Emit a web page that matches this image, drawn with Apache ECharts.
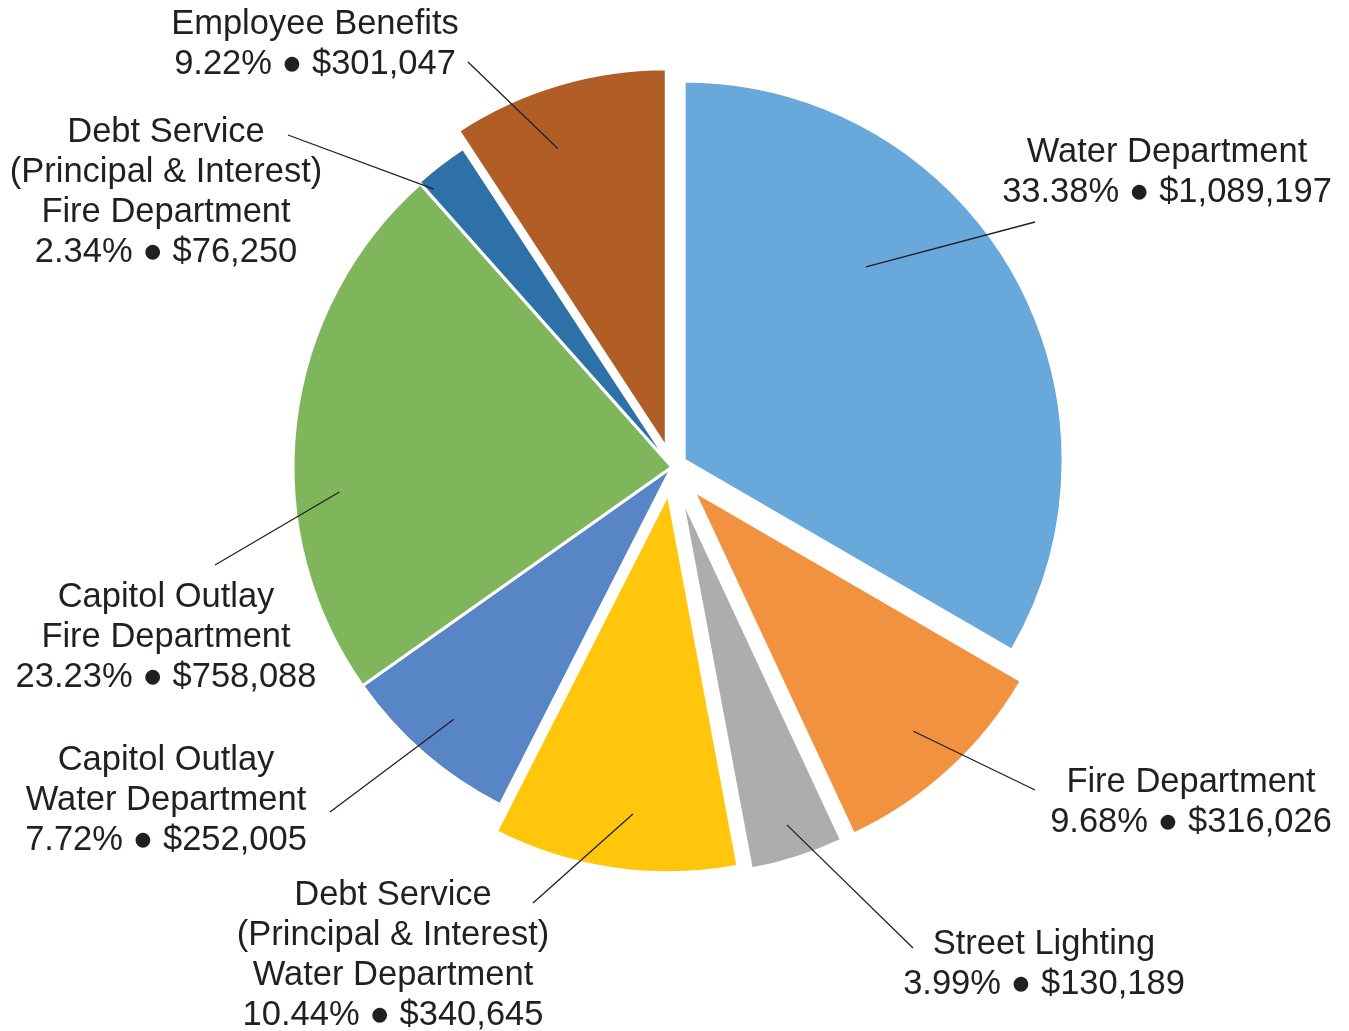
<!DOCTYPE html>
<html>
<head>
<meta charset="utf-8">
<title>Expenditures</title>
<script src="https://cdn.jsdelivr.net/npm/echarts@6/dist/echarts.min.js"></script>
<style>
  html, body { margin: 0; padding: 0; background: #fff; }
  #chart { width: 1349px; height: 1031px; }
</style>
</head>
<body>
<div id="chart"></div>
<script>
const names = [
  'Water Department',
  'Fire Department',
  'Street Lighting',
  'Debt Service\n(Principal & Interest)\nWater Department',
  'Capitol Outlay\nWater Department',
  'Capitol Outlay\nFire Department',
  'Debt Service\n(Principal & Interest)\nFire Department',
  'Employee Benefits'
];
const amounts = [1089197, 316026, 130189, 340645, 252005, 758088, 76250, 301047];
const colors = ['#69a8db', '#f0923f', '#adadad', '#ffc60b', '#5885c6', '#80b65b', '#2d71a8', '#b05e26'];

// how far each slice is pulled out of the pie, px
const pullOut = [14, 32, 31, 27, 0, 0, 2, 20];
// centre of each label block
const labelSpots = [[1167, 172], [1191, 802], [1044, 964], [393, 955], [166, 800], [166, 637], [166, 192], [315, 44]];
// leader line: where it leaves the slice (share of the slice's sweep, share of radius)
const leaderFrom = [[0.36, 0.70], [0.5, 0.86], [0.5, 0.91], [0.45, 0.85], [0.5, 0.88], [0.37, 0.88], [0.12, 0.96], [0.4, 0.84]];
// ... and where it ends, relative to the label centre
const leaderTo = [[-132, 50], [-156, -12], [-131, -16], [140, -52], [164, 12], [49, -72], [122, -57], [153, 18]];

const cx = 672, cy = 467, R = 379;
const fontSize = 34.5, lineH = 40;
const fontFamily = '"Liberation Sans", Arial, sans-serif';
const textColor = '#231f20';
const total = amounts.reduce((a, b) => a + b, 0);

const chart = echarts.init(document.getElementById('chart'));

// start / end angle of every slice, clockwise from 12 o'clock
let cum = 0;
const spans = amounts.map(v => {
  const a0 = cum / total * Math.PI * 2;
  cum += v;
  return [a0, cum / total * Math.PI * 2];
});
const midAngles = spans.map(s => (s[0] + s[1]) / 2);
const centers = amounts.map((_, i) => [
  cx + pullOut[i] * Math.sin(midAngles[i]),
  cy - pullOut[i] * Math.cos(midAngles[i])
]);

const labelText = (name, value) =>
  name + '\n' + (value / total * 100).toFixed(2) + '% \u25CF $' + value.toLocaleString('en-US');

// one series per slice so each one can be pulled out by its own amount
const series = amounts.map((_, i) => ({
  type: 'pie',
  silent: true,
  center: centers[i],
  radius: R,
  startAngle: 90,
  clockwise: true,
  emphasis: { disabled: true },
  label: {
    show: true,
    position: 'outside',
    formatter: p => labelText(p.name, p.value),
    fontFamily: fontFamily,
    fontSize: fontSize,
    lineHeight: lineH,
    color: textColor,
    align: 'center',
    width: 420,
    overflow: 'none'
  },
  labelLine: { show: false },
  labelLayout: params => {
    if (params.dataIndex !== i) return {};
    return { x: labelSpots[i][0], y: labelSpots[i][1], align: 'center', verticalAlign: 'middle' };
  },
  data: amounts.map((v, j) => j === i ? {
    name: names[j],
    value: v,
    itemStyle: { color: colors[j], borderColor: '#fff', borderWidth: 3 }
  } : {
    name: names[j],
    value: v,
    itemStyle: { color: 'rgba(0,0,0,0)', borderWidth: 0 },
    label: { show: false }
  })
}));

// leader lines from inside each slice to its label
const leaders = amounts.map((_, i) => {
  const a = spans[i][0] + (spans[i][1] - spans[i][0]) * leaderFrom[i][0];
  const r = R * leaderFrom[i][1];
  return {
    type: 'line',
    z: 100,
    silent: true,
    shape: {
      x1: centers[i][0] + r * Math.sin(a),
      y1: centers[i][1] - r * Math.cos(a),
      x2: labelSpots[i][0] + leaderTo[i][0],
      y2: labelSpots[i][1] + leaderTo[i][1]
    },
    style: { stroke: textColor, lineWidth: 1.3 }
  };
});

chart.setOption({
  backgroundColor: '#fff',
  animation: false,
  graphic: leaders,
  series: series
});
</script>
</body>
</html>
